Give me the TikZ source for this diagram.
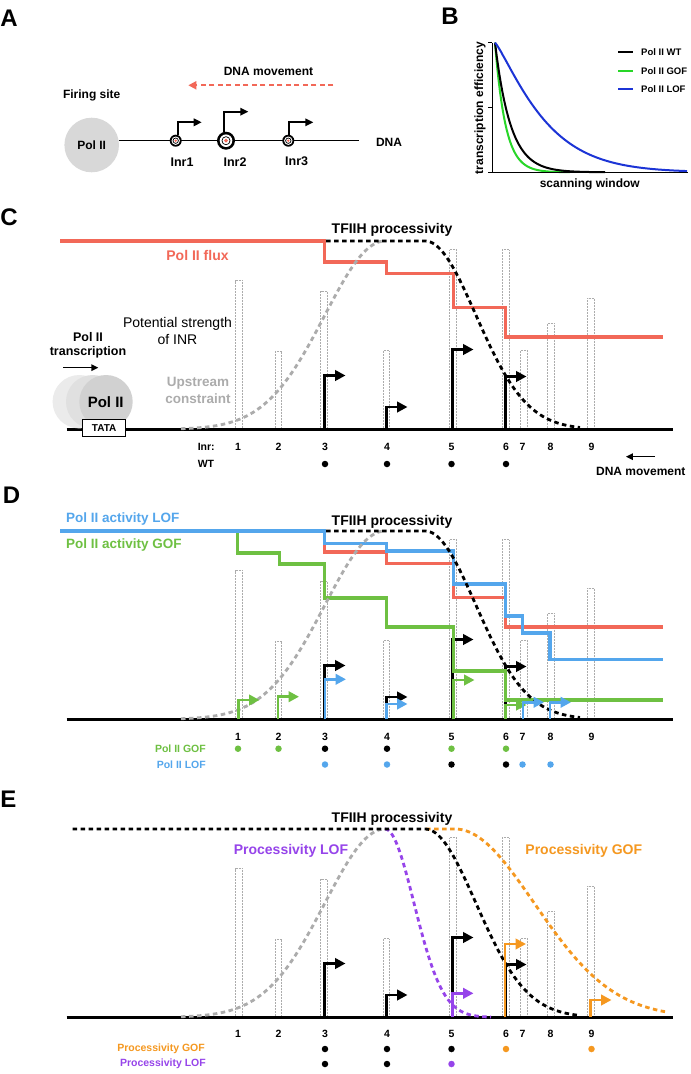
\documentclass[tikz,border=0pt]{standalone}
\usepackage{fontspec}
\setmainfont{Liberation Sans}
\usetikzlibrary{arrows.meta}
\definecolor{salmon}{RGB}{242,104,88}
\definecolor{lofblue}{RGB}{84,166,236}
\definecolor{gofgreen}{RGB}{110,192,66}
\definecolor{procpurple}{RGB}{150,68,234}
\definecolor{procorange}{RGB}{245,152,32}
\definecolor{upgray}{RGB}{172,172,172}
\definecolor{circgray}{RGB}{216,216,216}
\definecolor{bgreen}{RGB}{40,214,40}
\definecolor{bblue}{RGB}{28,52,214}
\newcommand\fsz[1]{\fontsize{#1}{#1}\selectfont}
\def\BL{429.3}
\newcommand\bars{\foreach \x/\t in {239/280.7,278.3/351.7,324/291,386.3/350.7,453/249.3,505.7/249.3,524/350,550.7/323.3,591/298.3}{\draw[barbox] (\x-3.3,\BL) rectangle (\x+3.3,\t);}}
\newcommand\numbers[2]{\foreach \i/\x in {1/238,2/278.5,3/325,4/387,5/451.5,6/506,7/522.5,8/550.5,9/591.5}{\node[numlbl] (#1num\i) at (\x,#2) {\i};}}
\newcommand\dnaline{\draw[line width=3pt] (66.7,\BL) -- (673.3,\BL);}
\newcommand\upcurve{\draw[updash] plot[domain=181:385,samples=60] (\x,{\BL-188.3*exp(-((\x-385)/85)^2)});}
\newcommand\tfcurve[1]{\draw[tfdash] (#1,241) -- plot[domain=425:580,samples=60] (\x,{\BL-188.3*exp(-((\x-425)/72)^2)});}
\newcommand\tssa[3][black]{\draw[tssarrow,#1] (#2,\BL) -- (#2,#3) -- ++(21,0);}
\newcommand\blackarrows{\tssa{324.5}{375.5}\tssa{386.5}{407}\tssa{452.5}{349.5}\tssa{505.5}{376.5}}
\begin{document}
\begin{tikzpicture}[x=1pt,y=-1pt,
  panel/.style={font=\fsz{24}\bfseries, inner sep=0pt},
  t12/.style={font=\fsz{12}\bfseries, inner sep=0pt},
  t14/.style={font=\fsz{14}\bfseries, inner sep=0pt},
  numlbl/.style={font=\fsz{10.5}\bfseries, inner sep=0pt},
  small/.style={font=\fsz{10.5}\bfseries, inner sep=0pt},
  leg/.style={font=\fsz{9.5}\bfseries, inner sep=0pt, anchor=west},
  barbox/.style={draw=gray!65, densely dotted, line width=0.5pt},
  tssarrow/.style={line width=2.6pt, -{Triangle[length=10.5pt,width=10.5pt]}},
  stepline/.style={line width=3.6pt},
  tfdash/.style={line width=2.8pt, dash pattern=on 4.5pt off 3.5pt},
  updash/.style={line width=2.8pt, upgray, dash pattern=on 4.5pt off 3.5pt},
  dot/.style={circle, inner sep=0pt, minimum size=6.5pt},
  thinarrow/.style={line width=1.5pt, -{Triangle[length=7pt,width=6.5pt]}},
]
\fill[white] (0,0) rectangle (691,1074);
\useasboundingbox (0,0) rectangle (691,1074);

% ================= Panel A
\node[panel] (labA) at (9,18.5) {A};
\node[t12] (dnamov) at (268.5,71) {DNA movement};
\coordinate (mvS) at (333.3,85.3);
\coordinate (mvE) at (188.3,85.3);
\draw[salmon, line width=1.8pt, dash pattern=on 5pt off 3.5pt, -{Triangle[length=8pt,width=8pt]}] (mvS) -- (mvE);
\node[t12] (fire) at (91.7,95.3) {Firing site};
\coordinate (dnaL) at (118.5,140.7);
\coordinate (dnaR) at (359.3,140.7);
\draw[line width=1.5pt] (dnaL) -- (dnaR);
\node[circle, fill=circgray, minimum size=54.6pt, inner sep=0pt, font=\fsz{12}\bfseries] (polA) at (91.7,145) {Pol II};
\node[t12] (dnaA) at (389,142) {DNA};
\foreach \n/\x/\r in {1/175.7/6,2/226/9,3/288.3/6}{
  \fill[black] (\x,140.7) circle (\r);
  \fill[white] (\x,140.7) circle (\r*0.7);
  \draw[black, line width=0.7pt] (\x,140.7) circle (\r*0.45);
  \fill[salmon] (\x,140.7) circle (\r*0.22);
}
\draw[line width=1.8pt, -{Triangle[length=8pt,width=7.5pt]}] (178,135) -- (178,122.3) -- (201.7,122.3);
\draw[line width=1.8pt, -{Triangle[length=8pt,width=7.5pt]}] (224,132) -- (224,111.7) -- (248.3,111.7);
\draw[line width=1.8pt, -{Triangle[length=8pt,width=7.5pt]}] (289.3,135) -- (289.3,122.3) -- (313.3,122.3);
\node[font=\fsz{12.5}\bfseries, inner sep=0pt] (inr1) at (182,161.7) {Inr1};
\node[font=\fsz{12.5}\bfseries, inner sep=0pt] (inr2) at (235,161.7) {Inr2};
\node[font=\fsz{12.5}\bfseries, inner sep=0pt] (inr3) at (296.7,161.7) {Inr3};

% ================= Panel B
\node[panel] (labB) at (450,16) {B};
\draw[bgreen, line width=2pt] plot[domain=0:75, samples=60] ({495+\x},{172.3-129.6*exp(-\x/10.5)});
\draw[black, line width=2pt] plot[domain=0:110, samples=60] ({495+\x},{172.3-129.6*exp(-\x/15.5)});
\draw[bblue, line width=2pt] plot[domain=0.01:192, samples=100] ({495+\x},{172.3-129.6*exp(-(\x/53.3)^1.2)});
\draw[line width=1.5pt] (492.3,42.7) -- (492.3,172.3);
\draw[line width=1.5pt] (488.3,172.3) -- (687.7,172.3);
\draw[line width=1.2pt] (488.3,42.7) -- (492.3,42.7) (488.3,107.7) -- (492.3,107.7);
\node[t12, rotate=90] (ylab) at (480,108) {transcription efficiency};
\node[t12] (xlab) at (589.8,184.3) {scanning window};
\draw[black, line width=2pt] (618.3,52.3) -- (633.3,52.3);
\node[leg] (lwt) at (641,52.3) {Pol II WT};
\draw[bgreen, line width=2pt] (618.3,70.7) -- (633.3,70.7);
\node[leg] (lgof) at (641,70.7) {Pol II GOF};
\draw[bblue, line width=2pt] (618.3,89.3) -- (633.3,89.3);
\node[leg] (llof) at (641,89.3) {Pol II LOF};

% ================= Panel C
\node[panel] (labC) at (9,217) {C};
\bars
\dnaline
\fill[black!8] (79.3,401.7) circle (26.7);
\fill[black!12] (92.7,401.7) circle (26.7);
\fill[black!18] (106,401.7) circle (26.7);
\node[font=\fsz{15}\bfseries, inner sep=0pt] (polC) at (105.7,402.3) {Pol II};
\node[draw, line width=0.9pt, fill=white, minimum width=43pt, minimum height=16.5pt, inner sep=0pt, font=\fsz{10}\bfseries] (tata) at (104.2,427.7) {TATA};
\node[t12, font=\fsz{12.5}\bfseries] (ptr1) at (88,336.7) {Pol II};
\node[t12, font=\fsz{12.5}\bfseries] (ptr2) at (88,352.3) {transcription};
\coordinate (trS) at (63.3,367.7);
\coordinate (trE) at (98.3,367.7);
\draw[thinarrow] (trS) -- (trE);
\node[font=\fsz{14}, inner sep=0pt] (pot1) at (177.5,324) {Potential strength};
\node[font=\fsz{14}, inner sep=0pt] (pot2) at (177.5,339.3) {of INR};
\node[font=\fsz{13.5}\bfseries, text=upgray, inner sep=0pt] (up1) at (198,383) {Upstream};
\node[font=\fsz{13.5}\bfseries, text=upgray, inner sep=0pt] (up2) at (198,398.3) {constraint};
\blackarrows
\draw[stepline, salmon] (60,241) -| (324.5,261.7) -| (386.5,273.3) -| (453.5,307.3) -| (505.5,336.7) -- (663.3,336.7);
\node[t14, text=salmon] (flux) at (197.5,255) {Pol II flux};
\node[t14] (tfC) at (392,230) {TFIIH processivity};
\upcurve
\tfcurve{326}
\numbers{C}{447.3}
\node[small, anchor=west] (inrlab) at (197.6,447.3) {Inr:};
\node[small, anchor=west] (wtlab) at (197.6,464) {WT};
\foreach \i/\x in {3/325,4/387,5/451.5,6/506}{\node[dot, fill=black] (Cwt\i) at (\x,464) {};}
\coordinate (cmS) at (655.2,456.7);
\coordinate (cmE) at (625.9,456.7);
\draw[thinarrow] (cmS) -- (cmE);
\node[t12] (dnamovC) at (640.8,471.7) {DNA movement};

% ================= Panel D
\node[panel] (labD) at (11.5,495) {D};
\begin{scope}[shift={(0,290)}]
\bars
\dnaline
\blackarrows
\draw[stepline, salmon] (324.5,241) -- (324.5,261.7) -| (386.5,273.3) -| (453.5,307.3) -| (505.5,336.7) -- (663.3,336.7);
\draw[stepline, gofgreen] (60,241) -| (237.5,262.7) -| (279.3,273.7) -| (324.5,307.8) -| (386.5,337) -| (453.5,380.7) -| (505.5,410) -- (663.3,410);
\draw[stepline, lofblue] (60,241) -| (324.5,253.5) -| (386.5,261) -| (453.5,294) -| (505.5,326) -| (522.5,342.7) -| (550,369.5) -- (663.3,369.5);
\upcurve
\tfcurve{326}
\tssa[gofgreen]{238.5}{410}
\tssa[gofgreen]{278}{406.7}
\tssa[lofblue]{325}{389.3}
\tssa[lofblue]{386.5}{414}
\tssa[gofgreen]{453.5}{390}
\tssa[gofgreen]{505.5}{415}
\tssa[lofblue]{523}{412.3}
\tssa[lofblue]{550}{412.3}
\node[t14, font=\fsz{13.5}\bfseries, text=lofblue, anchor=west] (actLOF) at (66,229) {Pol II activity LOF};
\node[t14, font=\fsz{13.5}\bfseries, text=gofgreen, anchor=west] (actGOF) at (66,255) {Pol II activity GOF};
\node[t14] (tfD) at (392,231.7) {TFIIH processivity};
\numbers{D}{446.5}
\node[small, text=gofgreen, anchor=east] (pgof) at (206,458.7) {Pol II GOF};
\node[small, text=lofblue, anchor=east] (plof) at (206,474.5) {Pol II LOF};
\foreach \i/\x/\c in {1/238/gofgreen,2/278.5/gofgreen,3/325/black,4/387/black,5/451.5/gofgreen,6/506/gofgreen}{\node[dot, fill=\c] (Dg\i) at (\x,458.7) {};}
\foreach \i/\x/\c in {3/325/lofblue,4/387/lofblue,5/451.5/black,6/506/black,7/522.5/lofblue,8/550.5/lofblue}{\node[dot, fill=\c] (Dl\i) at (\x,474.5) {};}
\end{scope}

% ================= Panel E
\node[panel] (labE) at (8.5,799) {E};
\begin{scope}[shift={(0,588)}]
\bars
\dnaline
\upcurve
\draw[tfdash, procorange] (426,241) -- plot[domain=455:665,samples=60] (\x,{\BL-188.3*exp(-((\x-455)/112)^2)});
\draw[tfdash, procpurple] plot[domain=385:491,samples=60] (\x,{\BL-188.3*exp(-((\x-385)/41)^2)});
\tfcurve{72.7}
\blackarrows
\tssa[procpurple]{452.5}{405.3}
\tssa[procorange]{505}{356}
\tssa[procorange]{590.5}{412}
\node[t14] (tfE) at (392,231.3) {TFIIH processivity};
\node[t14, text=procpurple] (plofE) at (291,262.7) {Processivity LOF};
\node[t14, text=procorange] (pgofE) at (583.8,262.7) {Processivity GOF};
\numbers{E}{446}
\node[small, text=procorange, anchor=east] (egof) at (205,461) {Processivity GOF};
\node[small, text=procpurple, anchor=east] (elof) at (206,476) {Processivity LOF};
\foreach \i/\x/\c in {3/325/black,4/387/black,5/451.5/black,6/506/procorange,9/591.5/procorange}{\node[dot, fill=\c] (Eg\i) at (\x,461) {};}
\foreach \i/\x/\c in {3/325/black,4/387/black,5/451.5/procpurple}{\node[dot, fill=\c] (El\i) at (\x,476) {};}
\end{scope}
\end{tikzpicture}
\end{document}
